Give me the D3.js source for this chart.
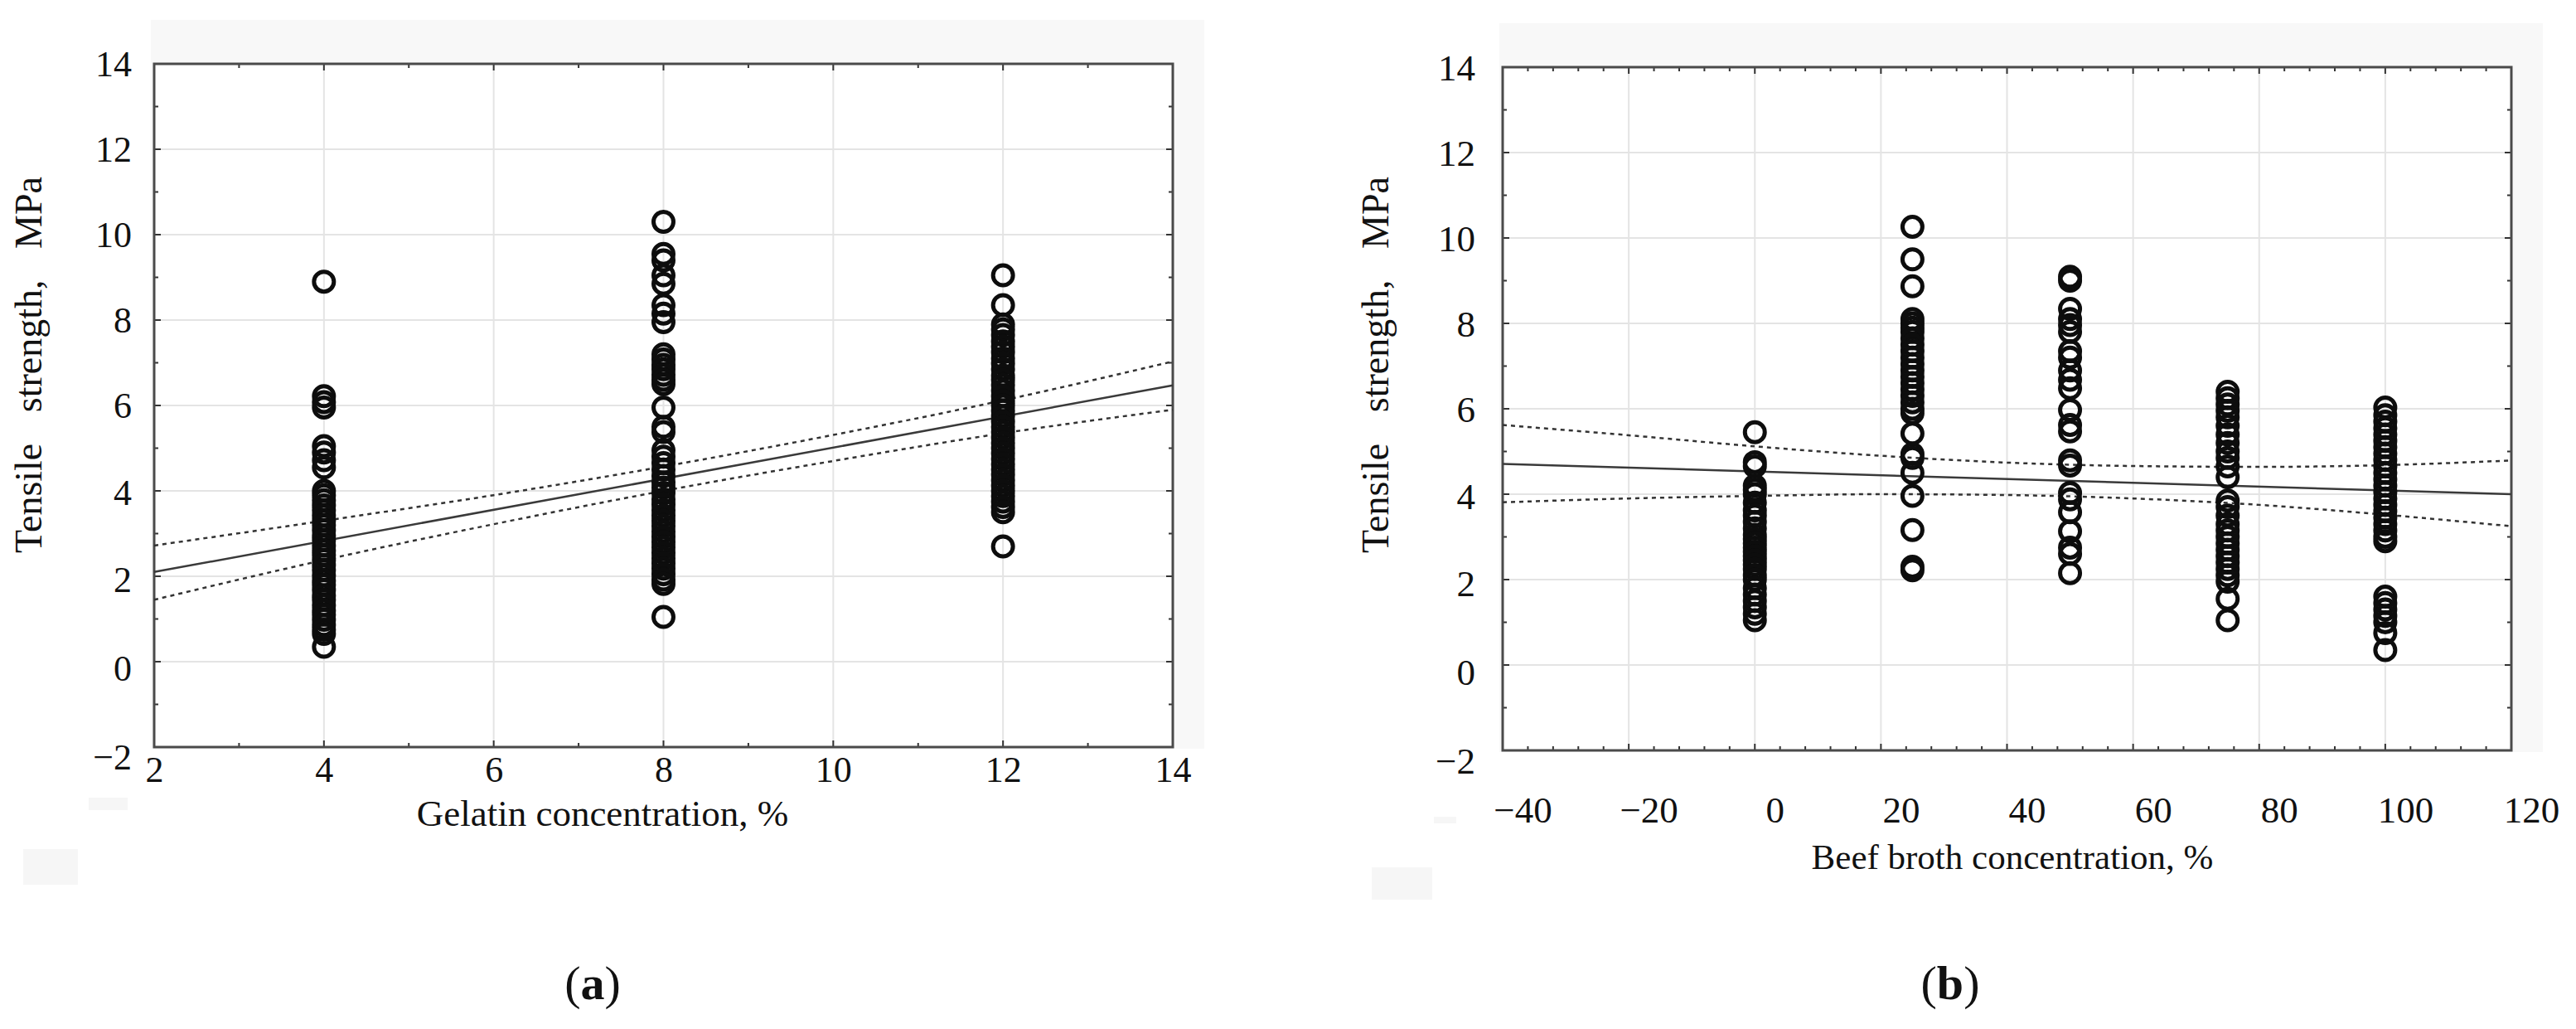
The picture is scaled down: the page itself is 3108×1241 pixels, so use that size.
<!DOCTYPE html>
<html>
<head>
<meta charset="utf-8">
<script src="https://cdn.jsdelivr.net/npm/d3@7"></script>
<style>
  body { margin: 0; background: #fff; }
  text { font-family: "Liberation Serif", "Times New Roman", serif; fill: #111; }
</style>
</head>
<body>
<div id="chart"></div>
<script>
// ---- data ----
// (a) tensile strength vs gelatin concentration
const gelatinLevels = [4, 8, 12];
const gelatin4 = [8.9, 6.22, 6.08, 5.95, 5.05, 4.9, 4.72, 4.55, 4.0, 3.9, 3.78, 3.66, 3.55, 3.42, 3.3, 3.2, 3.08,
    2.95, 2.85, 2.72, 2.6, 2.5, 2.38, 2.26, 2.15, 2.02, 1.9, 1.8, 1.68, 1.55, 1.45, 1.32, 1.2, 1.1, 0.98, 0.86, 0.75, 0.65, 0.35];
const gelatin8 = [10.3, 9.55, 9.4, 9.05, 8.85, 8.35, 8.15, 7.95, 7.2, 7.08, 6.95, 6.85, 6.72, 6.6, 6.5, 5.95, 5.5, 5.38,
    4.95, 4.8, 4.65, 4.5, 4.35, 4.2, 4.08, 3.95, 3.8, 3.68, 3.55, 3.42, 3.3, 3.18, 3.05, 2.92, 2.8, 2.68, 2.55, 2.42,
    2.3, 2.18, 2.05, 1.92, 1.82, 1.05];
const gelatin12 = [9.05, 8.35, 7.9, 7.78, 7.65, 7.5, 7.38, 7.25, 7.1, 6.98, 6.85, 6.7, 6.6, 6.48, 6.35, 6.22, 6.1, 6.0,
    5.88, 5.75, 5.62, 5.5, 5.38, 5.25, 5.12, 5.0, 4.88, 4.75, 4.62, 4.5, 4.38, 4.25, 4.12, 4.0, 3.88, 3.75, 3.62, 3.5, 2.7];
const gelatinFit = [[2, 2.1], [14, 6.47]];
const gelatinUpper = [[2, 2.72], [4, 3.3], [6, 3.9], [8, 4.57], [10, 5.31], [12, 6.12], [14, 7.03]];
const gelatinLower = [[2, 1.45], [4, 2.38], [6, 3.22], [8, 4.0], [10, 4.7], [12, 5.35], [14, 5.9]];

// (b) tensile strength vs beef broth concentration
const brothLevels = [0, 25, 50, 75, 100];
const broth0 = [5.45, 4.75, 4.65, 4.2, 4.1, 4.0, 3.8, 3.62, 3.5, 3.35, 3.2, 3.05, 2.95, 2.85, 2.75, 2.65, 2.55, 2.45,
    2.35, 2.25, 2.1, 2.0, 1.8, 1.65, 1.5, 1.35, 1.2, 1.05];
const broth25 = [10.26, 9.5, 8.87, 8.1, 8.0, 7.9, 7.8, 7.65, 7.5, 7.35, 7.2, 7.05, 6.9, 6.75, 6.6, 6.45, 6.3, 6.15, 6.0,
    5.9, 5.42, 4.94, 4.85, 4.5, 3.96, 3.16, 2.3, 2.22];
const broth50 = [9.09, 9.0, 8.34, 8.1, 7.96, 7.8, 7.35, 7.2, 6.9, 6.68, 6.48, 5.97, 5.62, 5.47, 4.79, 4.67, 4.03, 3.88,
    3.58, 3.13, 2.75, 2.6, 2.15];
const broth75 = [6.4, 6.25, 6.1, 5.95, 5.8, 5.6, 5.4, 5.2, 5.0, 4.85, 4.65, 4.4, 3.85, 3.7, 3.5, 3.3, 3.15, 3.0, 2.85,
    2.7, 2.55, 2.4, 2.25, 2.1, 1.95, 1.55, 1.05];
const broth100 = [6.03, 5.85, 5.7, 5.55, 5.4, 5.25, 5.1, 4.95, 4.8, 4.65, 4.5, 4.35, 4.2, 4.05, 3.9, 3.75, 3.6, 3.45,
    3.3, 3.15, 3.0, 2.9, 1.6, 1.45, 1.3, 1.15, 1.0, 0.75, 0.35];
const brothFit = [[-40, 4.71], [120, 4.0]];
const brothUpper = [[-40, 5.62], [-20, 5.38], [0, 5.12], [20, 4.9], [40, 4.74], [60, 4.66], [80, 4.64], [100, 4.68], [120, 4.79]];
const brothLower = [[-40, 3.81], [-20, 3.9], [0, 3.96], [20, 4.0], [40, 3.98], [60, 3.9], [80, 3.75], [100, 3.52], [120, 3.25]];

const yLabel = "Tensile strength, MPa";

const W = 3108, H = 1241;

const svg = d3.select("#chart").append("svg")
    .attr("width", W)
    .attr("height", H);

function toPoints(levels, columns) {
    let pts = [];
    levels.forEach((lv, i) => columns[i].forEach(v => pts.push({ x: lv, y: v })));
    return pts;
}

// the exported graph sags its lowest y labels a little
const yLabelSag = { "-2": 12, "0": 8, "2": 4, "4": 2 };

function drawPanel(cfg) {
    let g = svg.append("g");

    // faint backdrop of the original image
    g.append("rect")
        .attr("x", cfg.left - 4).attr("y", cfg.top - 53)
        .attr("width", cfg.right - cfg.left + 42).attr("height", cfg.bottom - cfg.top + 55)
        .attr("fill", "#f8f8f8");
    cfg.specks.forEach(s => {
        g.append("rect").attr("x", s[0]).attr("y", s[1]).attr("width", s[2]).attr("height", s[3])
            .attr("fill", "#f6f6f6");
    });
    g.append("rect")
        .attr("x", cfg.left).attr("y", cfg.top)
        .attr("width", cfg.right - cfg.left).attr("height", cfg.bottom - cfg.top)
        .attr("fill", "#fff");

    let x = d3.scaleLinear().domain(cfg.xDomain).range([cfg.left, cfg.right]);
    let y = d3.scaleLinear().domain([-2, 14]).range([cfg.bottom, cfg.top]);

    let xMajor = d3.range(cfg.xDomain[0], cfg.xDomain[1] + 0.001, cfg.xStep);
    let xMinor = d3.range(cfg.xDomain[0], cfg.xDomain[1] + 0.001, cfg.xMinorStep);
    let yMajor = d3.range(-2, 14.001, 2);
    let yMinor = d3.range(-2, 14.001, 1);

    // grid
    g.selectAll(".vgrid").data(xMajor.slice(1, -1)).enter().append("line")
        .attr("x1", d => x(d)).attr("x2", d => x(d))
        .attr("y1", cfg.top).attr("y2", cfg.bottom)
        .attr("stroke", "#e4e4e4").attr("stroke-width", 2);
    g.selectAll(".hgrid").data(yMajor.slice(1, -1)).enter().append("line")
        .attr("y1", d => y(d)).attr("y2", d => y(d))
        .attr("x1", cfg.left).attr("x2", cfg.right)
        .attr("stroke", "#e4e4e4").attr("stroke-width", 2);

    // ticks on all four sides, pointing in
    let tickLen = d => (d % cfg.xStep === 0 ? 8 : 5);
    xMinor.forEach(d => {
        g.append("line").attr("x1", x(d)).attr("x2", x(d))
            .attr("y1", cfg.bottom).attr("y2", cfg.bottom - tickLen(d))
            .attr("stroke", "#333").attr("stroke-width", 2);
        g.append("line").attr("x1", x(d)).attr("x2", x(d))
            .attr("y1", cfg.top).attr("y2", cfg.top + tickLen(d))
            .attr("stroke", "#333").attr("stroke-width", 2);
    });
    yMinor.forEach(d => {
        let len = d % 2 === 0 ? 8 : 5;
        g.append("line").attr("y1", y(d)).attr("y2", y(d))
            .attr("x1", cfg.left).attr("x2", cfg.left + len)
            .attr("stroke", "#333").attr("stroke-width", 2);
        g.append("line").attr("y1", y(d)).attr("y2", y(d))
            .attr("x1", cfg.right).attr("x2", cfg.right - len)
            .attr("stroke", "#333").attr("stroke-width", 2);
    });

    // frame
    g.append("rect")
        .attr("x", cfg.left).attr("y", cfg.top)
        .attr("width", cfg.right - cfg.left).attr("height", cfg.bottom - cfg.top)
        .attr("fill", "none").attr("stroke", "#4a4a4a").attr("stroke-width", 3);

    // axis labels via d3 axes (domain and tick lines hidden)
    let xAxis = d3.axisBottom(x).tickValues(xMajor).tickSize(0).tickFormat(d3.format("d"));
    let xa = g.append("g").attr("transform", "translate(0," + cfg.bottom + ")").call(xAxis);
    xa.select(".domain").remove();
    xa.selectAll("text")
        .attr("y", cfg.xLabelDy).attr("dy", 0).attr("dx", cfg.xLabelDx)
        .style("font-size", cfg.fontSize + "px")
        .style("font-family", "Liberation Serif");

    let yAxis = d3.axisLeft(y).tickValues(yMajor).tickSize(0).tickFormat(d3.format("d"));
    let ya = g.append("g").attr("transform", "translate(" + cfg.left + ",0)").call(yAxis);
    ya.select(".domain").remove();
    ya.selectAll("text")
        .attr("x", -cfg.yLabelGap)
        .attr("y", d => yLabelSag[d] || 0)
        .attr("dy", "0.34em")
        .style("font-size", cfg.fontSize + "px")
        .style("font-family", "Liberation Serif");

    // regression line and confidence bands
    let line = d3.line().x(d => x(d[0])).y(d => y(d[1])).curve(d3.curveMonotoneX);
    g.append("path").attr("d", line(cfg.fit))
        .attr("fill", "none").attr("stroke", "#3a3a3a").attr("stroke-width", 2.5);
    [cfg.upper, cfg.lower].forEach(band => {
        g.append("path").attr("d", line(band))
            .attr("fill", "none").attr("stroke", "#333")
            .attr("stroke-width", 2.5).attr("stroke-dasharray", "5,5");
    });

    // points
    g.selectAll(".pt").data(cfg.points).enter().append("circle")
        .attr("cx", d => x(d.x)).attr("cy", d => y(d.y))
        .attr("r", 12)
        .attr("fill", "none").attr("stroke", "#0d0d0d").attr("stroke-width", 5);

    // titles
    g.append("text")
        .attr("transform", "translate(" + cfg.yTitleX + "," + cfg.yTitleY + ") rotate(-90)")
        .attr("text-anchor", "middle")
        .style("font-size", "46px")
        .style("word-spacing", "26px")
        .text(yLabel);
    g.append("text")
        .attr("x", cfg.xTitleX).attr("y", cfg.xTitleY)
        .attr("text-anchor", "middle")
        .style("font-size", cfg.xTitleSize + "px")
        .text(cfg.xTitle);

    let cap = g.append("text")
        .attr("x", cfg.capX).attr("y", 1205)
        .attr("text-anchor", "middle")
        .style("font-size", "58px");
    cap.append("tspan").text("(");
    cap.append("tspan").style("font-weight", "bold").text(cfg.cap);
    cap.append("tspan").text(")");
}

drawPanel({
    left: 186, right: 1415, top: 77, bottom: 901,
    xDomain: [2, 14], xStep: 2, xMinorStep: 1,
    xLabelDy: 42, xLabelDx: 0, yLabelGap: 27, fontSize: 44,
    points: toPoints(gelatinLevels, [gelatin4, gelatin8, gelatin12]),
    fit: gelatinFit, upper: gelatinUpper, lower: gelatinLower,
    yTitleX: 50, yTitleY: 440,
    xTitle: "Gelatin concentration, %", xTitleX: 727, xTitleY: 996, xTitleSize: 45,
    cap: "a", capX: 715,
    specks: [[107, 962, 47, 15], [28, 1024, 66, 43]]
});

drawPanel({
    left: 1813, right: 3030, top: 81, bottom: 905,
    xDomain: [-40, 120], xStep: 20, xMinorStep: 4,
    xLabelDy: 87, xLabelDx: 24, yLabelGap: 33, fontSize: 45,
    points: toPoints(brothLevels, [broth0, broth25, broth50, broth75, broth100]),
    fit: brothFit, upper: brothUpper, lower: brothLower,
    yTitleX: 1675, yTitleY: 440,
    xTitle: "Beef broth concentration, %", xTitleX: 2428, xTitleY: 1048, xTitleSize: 43,
    cap: "b", capX: 2353,
    specks: [[1730, 985, 27, 8], [1655, 1046, 73, 39]]
});
</script>
</body>
</html>
